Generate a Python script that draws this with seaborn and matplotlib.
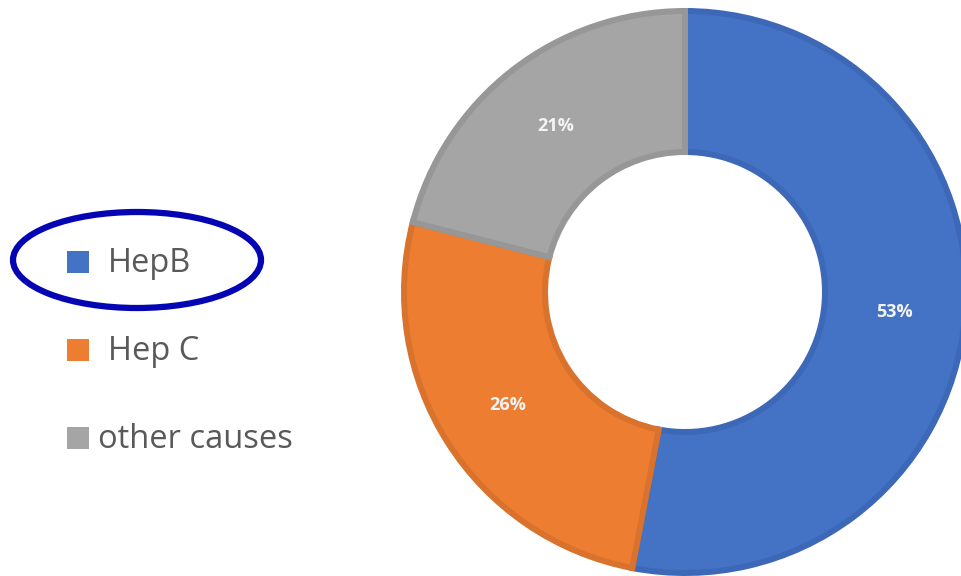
import matplotlib
matplotlib.use("Agg")
import matplotlib.pyplot as plt
from matplotlib.patches import Ellipse
import seaborn as sns

categories = ["HepB", "Hep C", "other causes"]
values = [53, 26, 21]
colors = ["#4472C4", "#ED7D31", "#A5A5A5"]
edge_colors = ["#3D68B8", "#D9722C", "#979797"]

sns.set_theme(style="white")
plt.rcParams["font.family"] = ["Open Sans", "DejaVu Sans"]

W, H = 961, 576
fig = plt.figure(figsize=(W / 100, H / 100), dpi=100)
fig.patch.set_facecolor("white")

# Donut axes (pixel geometry)
cx, cy, R = 685, 292, 284
ax = fig.add_axes([(cx - R) / W, (H - cy - R) / H, 2 * R / W, 2 * R / H])

lw_px = 6
r_out = 1 - (lw_px / 2) / R
r_in = 140 / R
wedges, texts, autotexts = ax.pie(
    values,
    colors=colors,
    startangle=90,
    counterclock=False,
    radius=r_out,
    autopct=lambda p: f"{p:.0f}%",
    pctdistance=(r_out + r_in) / 2 / r_out,
    wedgeprops=dict(width=r_out - r_in, linewidth=lw_px * 0.72),
    textprops=dict(color="#F4F4F4", fontsize=13, fontweight="bold"),
)
for w, ec in zip(wedges, edge_colors):
    w.set_edgecolor(ec)
    w.set_clip_on(False)
ax.set_xlim(-1, 1)
ax.set_ylim(-1, 1)
ax.set_aspect("equal")
ax.axis("off")

# Legend drawn as figure-level elements
lax = fig.add_axes([0, 0, 1, 1], zorder=5)
lax.set_xlim(0, W)
lax.set_ylim(H, 0)
lax.axis("off")
legend_y = [262, 350, 438]
text_x = [108, 108, 98]
for cat, col, y, tx in zip(categories, colors, legend_y, text_x):
    lax.add_patch(plt.Rectangle((67, y - 11), 22, 22, facecolor=col, edgecolor="none"))
    lax.text(tx, y + 2, cat, fontsize=23.5, color="#595959", va="center", ha="left")

lax.add_patch(Ellipse((137, 260), 248, 96, fill=False, edgecolor="#0505B4", linewidth=4.5))

fig.savefig("out.png", dpi=100, facecolor="white")
